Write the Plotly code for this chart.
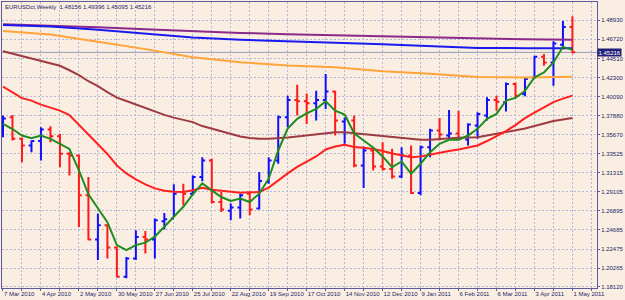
import plotly.graph_objects as go
import pandas as pd

# ---------------- data ----------------
dates = pd.date_range("2010-03-07", periods=61, freq="7D")

open_ = [1.35829, 1.37708, 1.35219, 1.34447, 1.34965, 1.36290, 1.35518, 1.33490, 1.33294, 1.28686,
         1.23581, 1.25229, 1.22660, 1.19273, 1.21393, 1.23881, 1.23581, 1.25690, 1.26000, 1.29066,
         1.28881, 1.30794, 1.32718, 1.27914, 1.26900, 1.27269, 1.28881, 1.27153, 1.30218, 1.32718,
         1.37708, 1.39712, 1.39551, 1.39321, 1.39712, 1.40703, 1.37212, 1.37327, 1.32143, 1.33871,
         1.32027, 1.31739, 1.30875, 1.33294, 1.28951, 1.34251, 1.36175, 1.35599, 1.35830, 1.35138,
         1.36751, 1.37903, 1.39712, 1.39436, 1.41556, 1.40404, 1.42316, 1.44702, 1.44045, 1.46084, 1.48156]
high = [1.37903, 1.37984, 1.35369, 1.35023, 1.36555, 1.36670, 1.35795, 1.33675, 1.33410, 1.30794,
        1.26577, 1.25344, 1.22729, 1.21543, 1.24653, 1.24572, 1.26001, 1.26646, 1.29953, 1.30034,
        1.30990, 1.33099, 1.32914, 1.29066, 1.27730, 1.28881, 1.29066, 1.31370, 1.33099, 1.37903,
        1.40208, 1.41475, 1.40473, 1.40784, 1.42708, 1.40784, 1.37673, 1.37903, 1.34332, 1.34251,
        1.34827, 1.34067, 1.34251, 1.34447, 1.34447, 1.36371, 1.37639, 1.38560, 1.38479, 1.37016,
        1.38284, 1.40012, 1.40208, 1.41740, 1.41740, 1.42247, 1.44817, 1.45013, 1.46488, 1.48849, 1.49396]
low = [1.35403, 1.35023, 1.32523, 1.33675, 1.32718, 1.34827, 1.31946, 1.30990, 1.25033, 1.23501,
       1.21197, 1.21393, 1.19203, 1.19088, 1.21197, 1.21969, 1.21393, 1.24733, 1.26185, 1.27533,
       1.28686, 1.30299, 1.27730, 1.26762, 1.25805, 1.26001, 1.26381, 1.27038, 1.30034, 1.32338,
       1.36555, 1.37903, 1.36947, 1.37327, 1.38676, 1.35599, 1.34643, 1.31946, 1.29527, 1.31566,
       1.31566, 1.30610, 1.30701, 1.28881, 1.28686, 1.33099, 1.35023, 1.35219, 1.35023, 1.34447,
       1.35219, 1.37327, 1.38479, 1.38364, 1.40012, 1.40151, 1.42132, 1.43664, 1.41360, 1.45589, 1.45095]
close = [1.37557, 1.35219, 1.34447, 1.34965, 1.36290, 1.35518, 1.33490, 1.33294, 1.28686, 1.23581,
         1.25229, 1.22660, 1.19273, 1.21393, 1.23881, 1.23581, 1.25805, 1.25920, 1.28881, 1.28881,
         1.30794, 1.32718, 1.27914, 1.27038, 1.27269, 1.28686, 1.27038, 1.30333, 1.32718, 1.37708,
         1.39712, 1.39551, 1.39321, 1.39712, 1.40703, 1.37327, 1.37557, 1.32143, 1.33871, 1.32027,
         1.31739, 1.30875, 1.33294, 1.28951, 1.34251, 1.36175, 1.35714, 1.35830, 1.35219, 1.36866,
         1.38099, 1.39712, 1.39517, 1.41556, 1.40208, 1.42132, 1.44702, 1.44045, 1.46234, 1.48158, 1.45216]

ma_green = [1.36947, 1.36350, 1.35599, 1.35288, 1.35599, 1.35219, 1.34643, 1.34044, 1.31566, 1.28801,
            1.27188, 1.25575, 1.22925, 1.22349, 1.22925, 1.23213, 1.23904, 1.25056, 1.26266, 1.27361,
            1.28801, 1.30068, 1.29262, 1.28490, 1.28029, 1.28306, 1.27914, 1.28881, 1.30610, 1.33871,
            1.36406, 1.37523, 1.38168, 1.38675, 1.39551, 1.38479, 1.38019, 1.35864, 1.35023, 1.34216,
            1.33179, 1.31946, 1.32603, 1.31186, 1.32338, 1.33675, 1.34643, 1.35104, 1.35104, 1.35599,
            1.36371, 1.37523, 1.38099, 1.39632, 1.39943, 1.40784, 1.42316, 1.42892, 1.44045, 1.45854, 1.45508]
ma_red = [1.41245, 1.40553, 1.39920, 1.39632, 1.39171, 1.38825, 1.38479, 1.37961, 1.36866, 1.35657,
          1.34677, 1.33467, 1.32142, 1.31221, 1.30529, 1.29953, 1.29492, 1.29204, 1.29089, 1.29066,
          1.29262, 1.29550, 1.29320, 1.29204, 1.29031, 1.28997, 1.29031, 1.29066, 1.29573, 1.30414,
          1.31221, 1.31970, 1.32603, 1.33179, 1.33986, 1.34332, 1.34527, 1.34274, 1.34182, 1.34044,
          1.33813, 1.33525, 1.33329, 1.33099, 1.33179, 1.33410, 1.33583, 1.33813, 1.33986, 1.34182,
          1.34447, 1.34965, 1.35541, 1.36117, 1.36809, 1.37615, 1.38249, 1.38883, 1.39459, 1.39862, 1.40208]
ma_brown = [1.45335, 1.45047, 1.44782, 1.44506, 1.44241, 1.43952, 1.43664, 1.43146, 1.42593, 1.41878,
            1.41302, 1.40611, 1.39977, 1.39597, 1.39171, 1.38744, 1.38364, 1.37984, 1.37673, 1.37408,
            1.37155, 1.36694, 1.36406, 1.36117, 1.35772, 1.35484, 1.35311, 1.35219, 1.35219, 1.35253,
            1.35369, 1.35484, 1.35599, 1.35714, 1.35887, 1.35979, 1.35979, 1.35864, 1.35749, 1.35657,
            1.35564, 1.35426, 1.35311, 1.35138, 1.35104, 1.35104, 1.35196, 1.35253, 1.35334, 1.35369,
            1.35403, 1.35599, 1.35795, 1.35979, 1.36152, 1.36406, 1.36694, 1.36982, 1.37270, 1.37442, 1.37638]

# long averages read every 5th bar
long_dates = dates[::5]
ma_orange = [1.47697, 1.47294, 1.46430, 1.45589, 1.44644, 1.44068, 1.43699, 1.43492, 1.43031, 1.42743, 1.42362, 1.42316, 1.42397]
ma_blue = [1.48388, 1.48216, 1.47835, 1.47352, 1.46948, 1.46660, 1.46453, 1.46314, 1.46142, 1.45911, 1.45715, 1.45704, 1.45704]
ma_purple = [1.48469, 1.48331, 1.48123, 1.47893, 1.47663, 1.47467, 1.47317, 1.47202, 1.47087, 1.46914, 1.46798, 1.46718, 1.46660]

last_price = 1.45216
last_price_text = "1.45216"
title_text = "EURUSDct,Weekly  1.48156 1.49396 1.45095 1.45216"

y_tick_vals = [1.48930, 1.46720, 1.44510, 1.42300, 1.40090, 1.37880, 1.35670, 1.33525,
               1.31315, 1.29105, 1.26895, 1.24685, 1.22475, 1.20265, 1.18120]
y_tick_text = ["1.48930", "1.46720", "1.44510", "1.42300", "1.40090", "1.37880", "1.35670", "1.33525",
               "1.31315", "1.29105", "1.26895", "1.24685", "1.22475", "1.20265", "1.18120"]

x_labels = ["7 Mar 2010", "4 Apr 2010", "2 May 2010", "30 May 2010", "27 Jun 2010", "25 Jul 2010",
            "22 Aug 2010", "19 Sep 2010", "17 Oct 2010", "14 Nov 2010", "12 Dec 2010", "9 Jan 2011",
            "6 Feb 2011", "6 Mar 2011", "3 Apr 2011", "1 May 2011"]
grid_dates = pd.date_range("2010-03-07", "2011-05-15", freq="14D")
grid_text = [x_labels[k // 2] if k % 2 == 0 else "" for k in range(len(grid_dates))]

# ---------------- style ----------------
BG = "#FAEEE2"
FRAME = "#5C5C9C"
GRID = "#B3B8D6"
TXT = "#25256A"
FONT = "Liberation Sans, Arial, sans-serif"

fig = go.Figure()

fig.add_trace(go.Ohlc(
    x=dates, open=open_, high=high, low=low, close=close,
    increasing=dict(line=dict(color="#1010FF", width=2)),
    decreasing=dict(line=dict(color="#FF1A1A", width=2)),
    tickwidth=0.3, hoverinfo="skip", showlegend=False,
))

fig.add_trace(go.Scatter(x=long_dates, y=ma_purple, mode="lines",
                         line=dict(color="#8A2A8A", width=2), hoverinfo="skip"))
fig.add_trace(go.Scatter(x=long_dates, y=ma_blue, mode="lines",
                         line=dict(color="#1A1AF0", width=2), hoverinfo="skip"))
fig.add_trace(go.Scatter(x=long_dates, y=ma_orange, mode="lines",
                         line=dict(color="#FFA43A", width=2), hoverinfo="skip"))
fig.add_trace(go.Scatter(x=dates, y=ma_brown, mode="lines",
                         line=dict(color="#9E3A42", width=2), hoverinfo="skip"))
fig.add_trace(go.Scatter(x=dates, y=ma_red, mode="lines",
                         line=dict(color="#FF2020", width=2), hoverinfo="skip"))
fig.add_trace(go.Scatter(x=dates, y=ma_green, mode="lines",
                         line=dict(color="#1E8C1E", width=2), hoverinfo="skip"))

# bid line
fig.add_hline(y=last_price, line=dict(color="#9098B4", width=1), layer="below")

fig.add_annotation(x=1, xref="paper", y=last_price, yref="y", xanchor="left", yanchor="middle",
                   text=last_price_text, showarrow=False, bgcolor="#20207A",
                   font=dict(family=FONT, size=6, color="white"), borderpad=0.5)

fig.add_annotation(x=0, xref="paper", y=1, yref="paper", xanchor="left", yanchor="middle",
                   xshift=1, yshift=-5, text=title_text, showarrow=False,
                   font=dict(family=FONT, size=6, color=TXT))

fig.update_layout(
    width=625, height=300,
    margin=dict(l=1, r=24, t=1, b=12),
    paper_bgcolor=BG, plot_bgcolor=BG,
    showlegend=False, hovermode=False,
    font=dict(family=FONT, size=6, color=TXT),
    xaxis=dict(
        type="date", range=["2010-03-06 06:26", "2011-05-19 03:00"],
        rangeslider=dict(visible=False),
        tickmode="array", tickvals=grid_dates, ticktext=grid_text,
        ticklabelposition="outside right", tickangle=0,
        showgrid=True, gridcolor=GRID, griddash="2px,2px", gridwidth=1,
        showline=True, linecolor=FRAME, linewidth=1, mirror=True,
        ticks="outside", ticklen=2, tickcolor=FRAME,
        tickfont=dict(family=FONT, size=6, color=TXT),
        zeroline=False,
    ),
    yaxis=dict(
        side="right", range=[1.17970, 1.51039],
        tickmode="array", tickvals=y_tick_vals, ticktext=y_tick_text,
        showgrid=True, gridcolor=GRID, griddash="2px,2px", gridwidth=1,
        showline=True, linecolor=FRAME, linewidth=1, mirror=True,
        ticks="outside", ticklen=2, tickcolor=FRAME,
        tickfont=dict(family=FONT, size=6, color=TXT),
        zeroline=False,
    ),
)

fig.write_html("out.html")
